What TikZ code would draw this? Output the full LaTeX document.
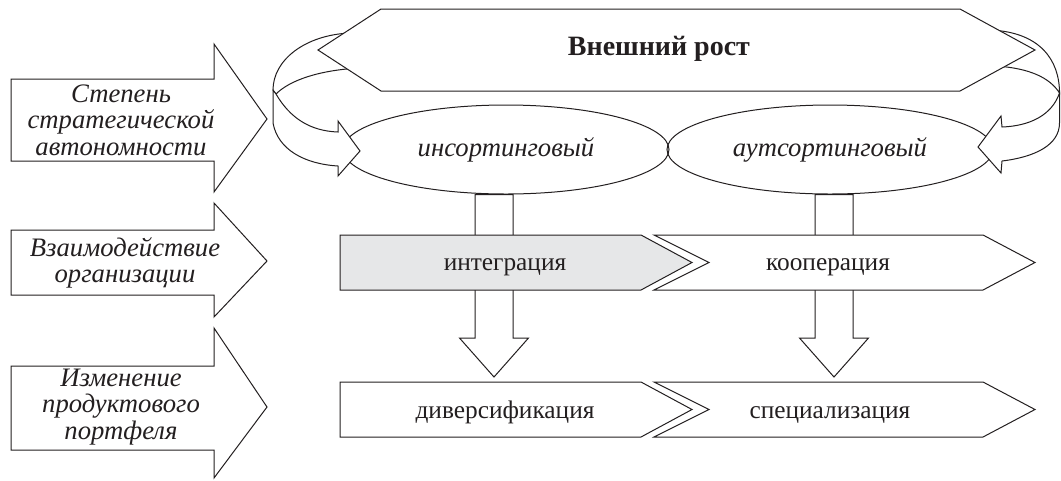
\documentclass[tikz,border=0pt]{standalone}
\usepackage{fontspec}
\setmainfont{Liberation Serif}
\usetikzlibrary{shapes.geometric,calc}

\definecolor{inkgray}{RGB}{35,31,32}
\definecolor{fillgray}{RGB}{230,231,232}

\tikzset{every picture/.style={line width=0.75pt}}
\tikzset{
  outline/.style={draw=inkgray, fill=white, line join=miter},
  lefttext/.style={align=center, font=\fontsize{20}{20}\selectfont\itshape, text=inkgray, inner sep=0.75pt},
  stagetext/.style={anchor=base, font=\fontsize{19}{22}\selectfont, text=inkgray, inner sep=0.75pt},
  growthtext/.style={anchor=base, font=\fontsize{21}{24}\selectfont\bfseries, text=inkgray, inner sep=0.75pt},
  modebox/.style={ellipse, draw=inkgray, minimum width=244.5pt, minimum height=66.75pt, inner sep=0pt,
    font=\fontsize{20}{22}\selectfont\itshape, text=inkgray},
}

% hollow arrow pointing down: #1 top of shaft, #2 tip
\newcommand\blockdown[2]{%
  \draw[outline] ($(#1)+(-19,0)$) -- ($(#1 |- #2)+(-19,-39)$) -- ($(#1 |- #2)+(-34.5,-39)$)
    -- (#2) -- ($(#1 |- #2)+(34.5,-39)$) -- ($(#1 |- #2)+(19,-39)$) -- ($(#1)+(19,0)$) -- cycle;}

\begin{document}
\begin{tikzpicture}[x=0.75pt,y=0.75pt,yscale=-1,xscale=1]
\useasboundingbox (0,0) rectangle (1061,480);

% Shape: left loop, upper part
\draw[outline] (350,33) .. controls (305,35) and (273,60) .. (273,90) -- (276,94) .. controls (290,80) and (320,70) .. (360,68) -- cycle;
% Shape: right loop, upper part
\draw[outline] (990,30) .. controls (1040,32) and (1059.5,60) .. (1059.5,93) .. controls (1050,78) and (1030,68) .. (995,66) -- cycle;

% Shape: Hexagon
\draw[outline] (318,50) -- (381,9) -- (960,9) -- (1035,50) -- (960,91) -- (381,91) -- cycle;
% Text Node
\node[growthtext] (growth) at (659,55) {Внешний рост};

% Ellipse
\node[modebox] (ins) at (506,149.5) {инсортинговый};
% Ellipse
\node[modebox] (outs) at (830,149.5) {аутсортинговый};

% Shape: left loop, lower part with head
\draw[outline] (276,94) .. controls (290,118) and (310,131) .. (338,132) -- (338,121) -- (360,151) -- (338,176) -- (338,166) .. controls (305,164) and (278,150) .. (273,123) -- (273,90) -- cycle;
% Shape: right loop, lower part with head
\draw[outline] (1059.5,93) .. controls (1052,115) and (1030,126) .. (1002,127) -- (1001,116) -- (978,147) -- (1001,173) -- (1002,161) .. controls (1035,157) and (1059.5,145) .. (1059.5,123) -- cycle;

% Shape: Right Arrow
\draw[outline] (11,79) -- (214,79) -- (214,44) -- (267,119) -- (214,192) -- (214,161) -- (11,161) -- cycle;
\node[lefttext] (degree) at (121,120) {Степень\\стратегической\\автономности};
% Shape: Right Arrow
\draw[outline] (11,230) -- (214,230) -- (214,203) -- (267,261) -- (214,317) -- (214,295) -- (11,295) -- cycle;
\node[lefttext] (interact) at (125,263) {Взаимодействие\\организации};
% Shape: Right Arrow
\draw[outline] (11,366) -- (214,366) -- (214,328) -- (267,407) -- (214,478) -- (214,450) -- (11,450) -- cycle;
\node[lefttext] (portfolio) at (121,407) {Изменение\\продуктового\\портфеля};

% Shape: Chevron
\draw[outline] (340,382) -- (641,382) -- (692,409.5) -- (641,437) -- (340,437) -- cycle;
\node[stagetext] (divers) at (505,418) {диверсификация};
% Shape: Chevron
\draw[outline] (654,382) -- (983,382) -- (1035,409.5) -- (983,437) -- (654,437) -- (709,409.5) -- cycle;
\node[stagetext] (special) at (830,418) {специализация};

% Connection
\coordinate (insfoot) at ($(ins.south)+(-12,0)$);
\coordinate (diverstip) at ($(divers.base)+(-11,-41)$);
\blockdown{insfoot}{diverstip}
% Connection
\coordinate (outsfoot) at ($(outs.south)+(4,0)$);
\coordinate (specialtip) at ($(special.base)+(4,-41)$);
\blockdown{outsfoot}{specialtip}

% Shape: Chevron
\draw[outline, fill=fillgray] (340,235) -- (641,235) -- (692,262.5) -- (641,290) -- (340,290) -- cycle;
\node[stagetext] (integ) at (505,270) {интеграция};
% Shape: Chevron
\draw[outline] (654,235) -- (983,235) -- (1035,262.5) -- (983,290) -- (654,290) -- (709,262.5) -- cycle;
\node[stagetext] (coop) at (828,270) {кооперация};

\end{tikzpicture}
\end{document}
